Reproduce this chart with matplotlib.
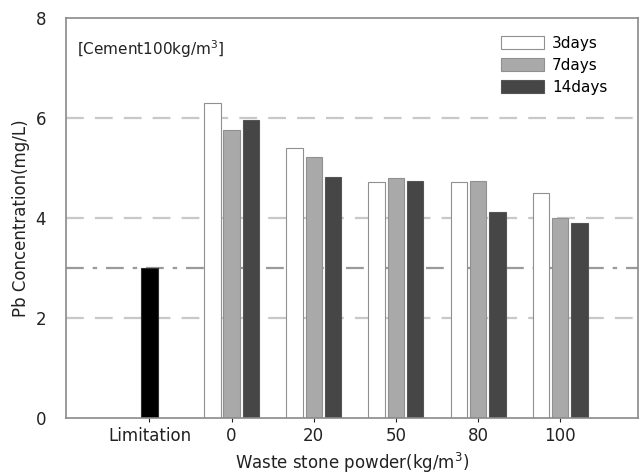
import matplotlib
matplotlib.use("Agg")
import matplotlib.pyplot as plt
import numpy as np

categories = ["Limitation", "0", "20", "50", "80", "100"]
limitation = 3.0
days3 = [6.3, 5.4, 4.73, 4.73, 4.5]
days7 = [5.77, 5.22, 4.8, 4.75, 4.0]
days14 = [5.96, 4.83, 4.75, 4.12, 3.91]
series_labels = ["3days", "7days", "14days"]

fig = plt.figure(figsize=(6.44, 4.75), dpi=100)
ax = fig.add_axes([0.102, 0.12, 0.889, 0.842])

# reference lines
for y in [2, 4, 6]:
    ax.axhline(y, color="#c8c8c8", lw=1.6, ls=(0, (8, 5)), zorder=0)
ax.axhline(3, color="#9a9a9a", lw=1.6, ls=(0, (8, 4, 2, 4)), zorder=0)

x = np.arange(1, len(categories))
w = 0.2
step = 0.235
edge = "#909090"
ax.bar(0, limitation, w, color="black", edgecolor="#303030", lw=0.8, zorder=2)
ax.bar(x - step, days3, w, color="white", edgecolor=edge, lw=0.8,
       label=series_labels[0], zorder=2)
ax.bar(x, days7, w, color="#a9a9a9", edgecolor=edge, lw=0.8,
       label=series_labels[1], zorder=2)
ax.bar(x + step, days14, w, color="#464646", edgecolor="#555555", lw=0.8,
       label=series_labels[2], zorder=2)

ax.set_xlim(-1.02, 5.95)
ax.set_ylim(0, 8)
ax.set_yticks([0, 2, 4, 6, 8])
ax.set_xticks(np.arange(len(categories)))
ax.set_xticklabels(categories)
ax.tick_params(axis="both", labelsize=12, colors="#222222", length=3)
ax.tick_params(axis="y", length=0, pad=14)
for s in ax.spines.values():
    s.set_color("#8a8a8a")
    s.set_linewidth(1.2)

ax.set_ylabel("Pb Concentration(mg/L)", fontsize=12, color="#222222",
              labelpad=4)
ax.set_xlabel("Waste stone powder(kg/m$^3$)", fontsize=12, color="#222222",
              labelpad=4)
ax.text(0.02, 0.95, "[Cement100kg/m$^3$]", transform=ax.transAxes,
        fontsize=11, va="top", ha="left", color="#222222")
ax.legend(loc="upper right", frameon=False, fontsize=11, handlelength=2.8,
          handleheight=0.95, labelspacing=0.45, handletextpad=0.5,
          bbox_to_anchor=(0.97, 0.99))

fig.savefig("out.png", dpi=100)
